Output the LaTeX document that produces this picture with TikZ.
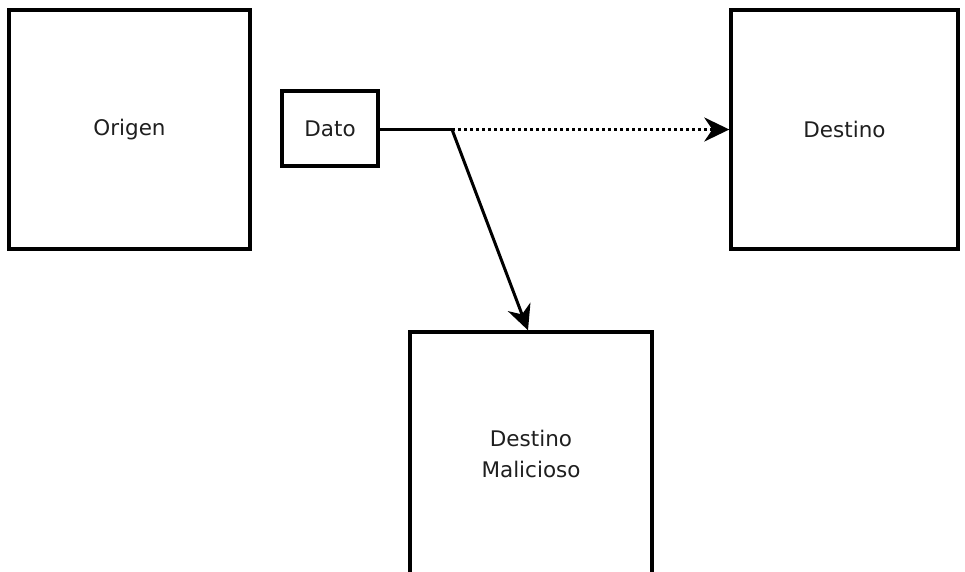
\documentclass[tikz,border=0pt]{standalone}
\usepackage{fontspec}
\setmainfont{DejaVu Sans}
\usetikzlibrary{arrows.meta,calc}
\begin{document}
\begin{tikzpicture}[x=1pt,y=-1pt,
  box/.style={draw=black, line width=3.4pt, fill=white, inner sep=0pt,
    font=\fontsize{21.5}{31}\selectfont, text=black!88, align=center},
  flow/.style={line width=3pt, -{Stealth[length=25pt,width=24pt,inset=8pt]}},
  plain/.style={line width=3pt}]
  % canvas (the lower box runs off the bottom edge)
  \clip (0,0) rectangle (965,571);
  \fill[white] (0,0) rectangle (965,571);

  \node[box, minimum width=241pt, minimum height=239pt] (origen) at (129.5,129.5) {Origen};
  \node[box, minimum width=96pt, minimum height=75pt] (dato) at (330,128.5) {Dato};
  \node[box, minimum width=227pt, minimum height=239pt] (destino) at (844.5,129.5) {Destino};
  \node[box, minimum width=242pt, minimum height=244pt] (malicioso) at (531,454) {Destino\\Malicioso};

  \coordinate (split) at (452,129.5);

  \draw[plain] (dato.east |- split) -- (split);
  \draw[flow, dash pattern=on 3pt off 3pt] (split) -- (destino.west |- split);
  \draw[flow] (split) -- ($(malicioso.north)+(-3,0)$);
\end{tikzpicture}
\end{document}
